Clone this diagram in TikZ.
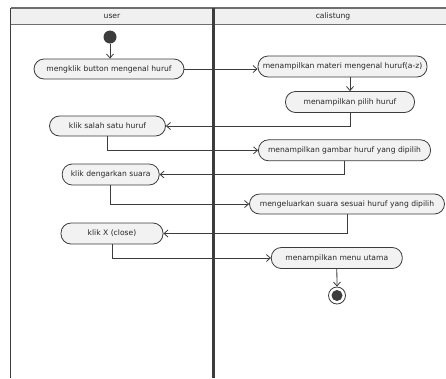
\documentclass[tikz,border=0pt]{standalone}
\usepackage{fontspec}
\setmainfont{DejaVu Sans}
\usetikzlibrary{arrows.meta}
\definecolor{linec}{HTML}{3C3C3C}
\definecolor{nodefill}{HTML}{F2F2F2}
\definecolor{headfill}{HTML}{F0F0F0}
\definecolor{headline}{HTML}{6E6E6E}
\definecolor{txtc}{HTML}{262626}
\newcommand{\actfont}{\fontsize{7.6}{9}\selectfont\color{txtc}}
\tikzset{
  act/.style={draw=linec, fill=nodefill, rounded corners=10pt, minimum height=21pt,
    inner sep=0pt, font=\actfont, line width=0.8pt},
  flow/.style={draw=linec, line width=0.8pt, -{Straight Barb[length=4pt,width=7pt]}},
  lane/.style={draw=linec, line width=1.2pt},
  headtxt/.style={font=\actfont, inner sep=0pt}
}
\begin{document}
\begin{tikzpicture}[x=1pt,y=-1pt]
\useasboundingbox (0,0) rectangle (446,378);
% header
\fill[headfill] (10.7,8) rectangle (446,24.3);
\draw[headline, line width=1.3pt] (10.7,8) -- (446,8);
\draw[headline, line width=1.3pt] (10.7,24.3) -- (446,24.3);
\node[headtxt] (hu) at (112,16.5) {user};
\node[headtxt] (hc) at (333,16.5) {calistung};
% lanes
\draw[lane] (10.7,8) -- (10.7,378);
\draw[draw=linec, line width=2.6pt] (213.3,8) -- (213.3,378);
% nodes
\node[circle, fill=linec, minimum size=13pt, inner sep=0pt] (start) at (110,37) {};
\node[act, minimum width=150pt, minimum height=20pt] (n1) at (109,69) {mengklik button mengenal huruf};
\node[act, minimum width=169pt] (n2) at (342.5,66.5) {menampilkan materi mengenal huruf(a-z)};
\node[act, minimum width=129pt] (n3) at (350,102) {menampilkan pilih huruf};
\node[act, minimum width=116pt, minimum height=20pt] (n4) at (107.5,126) {klik salah satu huruf};
\node[act, minimum width=172pt] (n5) at (344.5,150.3) {menampilkan gambar huruf yang dipilih};
\node[act, minimum width=97pt] (n6) at (110.7,174.5) {klik dengarkan suara};
\node[act, minimum width=195pt, minimum height=20pt] (n7) at (347,204) {mengeluarkan suara sesuai huruf yang dipilih};
\node[act, minimum width=102pt] (n8) at (112,233.5) {klik X (close)};
\node[act, minimum width=131pt] (n9) at (336.8,258) {menampilkan menu utama};
\node[circle, draw=linec, line width=0.8pt, fill=white, minimum size=17pt, inner sep=0pt] (end) at (337,295.5) {};
\node[circle, fill=linec, minimum size=11pt, inner sep=0pt] (endin) at (337,295.5) {};
% connectors
\draw[flow] (start) -- (n1.north -| start);
\draw[flow] (n1.east) -- (n1.east -| n2.west);
\draw[flow] (n2.south -| n3.north) -- (n3.north);
\draw[flow] (n3.south) -- (n3.south |- n4.east) -- (n4.east);
\draw[flow] (n4.south) -- (n4.south |- n5.west) -- (n5.west);
\draw[flow] (n5.south) -- (n5.south |- n6.east) -- (n6.east);
\draw[flow] (n6.south) -- (n6.south |- n7.west) -- (n7.west);
\draw[flow] (n7.south) -- (n7.south |- n8.east) -- (n8.east);
\draw[flow] (n8.south) -- (n8.south |- n9.west) -- (n9.west);
\draw[flow] (n9.south) -- (end.north);
\end{tikzpicture}
\end{document}
